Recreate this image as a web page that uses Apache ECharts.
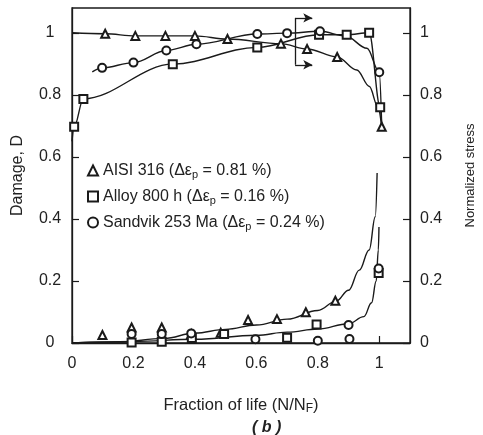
<!DOCTYPE html>
<html>
<head>
<meta charset="utf-8">
<script src="https://cdn.jsdelivr.net/npm/echarts@6/dist/echarts.min.js"></script>
<style>
  html, body { margin: 0; padding: 0; background: #fff; }
  #chart { width: 483px; height: 435px; }
</style>
</head>
<body>
<div id="chart"></div>
<script>
// legend names
const names = ['AISI 316', 'Alloy 800 h', 'Sandvik 253 Ma'];
const strains = ['0.81', '0.16', '0.24'];

// normalized stress (right axis), [N/NF, stress]; points with no marker are read off the drawn curve
const stressAisi = [[0, 1.0, 0], [0.108, 0.997], [0.206, 0.99], [0.304, 0.99], [0.40, 0.99], [0.506, 0.98],
  [0.68, 0.965], [0.765, 0.948], [0.863, 0.922], [0.927, 0.88, 0], [0.968, 0.827, 0], [0.995, 0.762, 0], [1.008, 0.697]];
const stressAlloy = [[0, 0.65, 0], [0.007, 0.697], [0.037, 0.787], [0.328, 0.899], [0.603, 0.953], [0.804, 0.994],
  [0.894, 0.994], [0.967, 1.0], [1.003, 0.76], [1.008, 0.70, 0]];
const stressSandvik = [[0.066, 0.874, 0], [0.098, 0.887], [0.2, 0.904], [0.307, 0.943], [0.405, 0.963], [0.603, 0.996],
  [0.70, 0.999], [0.807, 1.005], [0.89, 0.99, 0], [0.96, 0.95, 0], [1.0, 0.873], [1.008, 0.70, 0]];

// damage D (left axis), measured points
const damageAisi = [[0.099, 0.026], [0.194, 0.05], [0.292, 0.05], [0.388, 0.029], [0.484, 0.033], [0.573, 0.074],
  [0.667, 0.077], [0.761, 0.099], [0.857, 0.136]];
const damageAlloy = [[0.194, 0.002], [0.292, 0.004], [0.39, 0.016], [0.495, 0.029], [0.70, 0.017], [0.796, 0.06], [0.998, 0.226]];
const damageSandvik = [[0.194, 0.029], [0.292, 0.029], [0.388, 0.031], [0.597, 0.012], [0.80, 0.007], [0.903, 0.013],
  [0.90, 0.058], [0.998, 0.24]];

// drawn fit curves for damage
const fitUpper = [[0, 0], [0.15, 0.003], [0.3, 0.015], [0.4, 0.032], [0.5, 0.044], [0.6, 0.058], [0.7, 0.077],
  [0.8, 0.105], [0.86, 0.135], [0.9, 0.17], [0.935, 0.235], [0.967, 0.30], [0.987, 0.407], [0.993, 0.548]];
const fitLower = [[0, 0], [0.2, 0.005], [0.4, 0.012], [0.6, 0.025], [0.7, 0.035], [0.8, 0.045], [0.9, 0.062],
  [0.95, 0.085], [0.975, 0.13], [0.99, 0.2], [0.997, 0.3], [0.999, 0.374]];

// bracket with arrows (data coords on the stress axis)
const bracketX = [0.726, 0.782];
const bracketY = [1.048, 0.897];

const yTicks = ['0', '0.2', '0.4', '0.6', '0.8', '1'];
const xTicks = ['0', '0.2', '0.4', '0.6', '0.8', '1'];

const ink = '#1a1a1a';
const txt = '#222';
const font = 'Liberation Sans';
const symbols = ['emptyTriangle', 'emptyRect', 'emptyCircle'];

const toPts = arr => arr.map(p => p[2] === 0 ? { value: [p[0], p[1]], symbol: 'none' } : [p[0], p[1]]);

const chart = echarts.init(document.getElementById('chart'));

const markerStyle = { color: ink, borderWidth: 1, opacity: 1 };

const stressSeries = [stressAisi, stressAlloy, stressSandvik].map((d, i) => ({
  name: names[i],
  type: 'line',
  yAxisIndex: 1,
  data: toPts(d),
  smooth: 0.35,
  smoothMonotone: 'x',
  symbol: symbols[i],
  symbolSize: 8,
  showAllSymbol: true,
  lineStyle: { color: ink, width: 1.4 },
  itemStyle: markerStyle,
  z: 3
}));

const damageSeries = [damageAisi, damageAlloy, damageSandvik].map((d, i) => ({
  name: names[i],
  type: 'scatter',
  yAxisIndex: 0,
  data: d,
  symbol: symbols[i],
  symbolSize: 8,
  itemStyle: markerStyle,
  z: 4
}));

const fitSeries = [fitUpper, fitLower].map((d, i) => ({
  name: 'fit' + i,
  type: 'line',
  yAxisIndex: 0,
  data: d,
  smooth: 0.4,
  smoothMonotone: 'x',
  symbol: 'none',
  lineStyle: { color: ink, width: 1.4 },
  z: 2
}));

// bracket drawn as markLine on first stress series
stressSeries[0].markLine = {
  silent: true,
  animation: false,
  symbolSize: [7, 9],
  lineStyle: { color: ink, width: 1.3, type: 'solid' },
  label: { show: false },
  data: [
    [{ coord: [bracketX[0], bracketY[0]], symbol: 'none' }, { coord: [bracketX[0], bracketY[1]], symbol: 'none' }],
    [{ coord: [bracketX[0], bracketY[0]], symbol: 'none' }, { coord: [bracketX[1], bracketY[0]], symbol: 'arrow', symbolRotate: -90 }],
    [{ coord: [bracketX[0], bracketY[1]], symbol: 'none' }, { coord: [bracketX[1], bracketY[1]], symbol: 'arrow', symbolRotate: -90 }]
  ]
};

const yAxisBase = {
  type: 'value',
  min: 0,
  max: 1.08,
  interval: 0.2,
  splitLine: { show: false },
  axisLine: { show: true, lineStyle: { color: ink, width: 1.3 } },
  axisTick: { show: true, inside: true, length: 7, lineStyle: { color: ink, width: 1.2 } },
  nameLocation: 'middle',
  nameRotate: 90
};

chart.setOption({
  animation: false,
  textStyle: { fontFamily: font },
  grid: {
    left: 72, right: 73, top: 8, bottom: 92,
    outerBoundsMode: 'none', containLabel: false,
    show: true, borderColor: ink, borderWidth: 1.3
  },
  title: {
    text: '( b )',
    left: 252,
    top: 420,
    padding: 0,
    textStyle: { fontFamily: font, fontSize: 16, fontWeight: 'bold', fontStyle: 'italic', color: txt }
  },
  legend: {
    orient: 'vertical',
    left: 82,
    top: 156,
    itemGap: 7,
    itemWidth: 10,
    itemHeight: 10,
    data: names.map((n, i) => ({ name: n, icon: symbols[i] })),
    itemStyle: { color: ink, borderWidth: 1 },
    formatter: n => {
      const i = names.indexOf(n);
      return '{a|' + n + ' (Δε}{s|p}{a| = ' + strains[i] + ' %)}';
    },
    textStyle: {
      color: txt,
      rich: {
        a: { fontFamily: font, fontSize: 16, color: txt, lineHeight: 18 },
        s: { fontFamily: font, fontSize: 11, color: txt, padding: [8, 0, 0, 0], lineHeight: 18 }
      }
    }
  },
  xAxis: {
    type: 'value',
    min: 0,
    max: 1.1,
    interval: 0.2,
    splitLine: { show: false },
    axisLine: { show: true, lineStyle: { color: ink, width: 1.3 } },
    axisTick: { show: true, inside: true, length: 7, lineStyle: { color: ink, width: 1.2 } },
    axisLabel: {
      showMaxLabel: false,
      margin: 13,
      fontSize: 16,
      color: txt,
      fontFamily: font,
      formatter: v => xTicks[Math.round(v / 0.2)] || ''
    },
    name: '{a|Fraction of life (N/N}{s|F}{a|)}',
    nameLocation: 'middle',
    nameGap: 52,
    nameTextStyle: {
      rich: {
        a: { fontFamily: font, fontSize: 16.5, color: txt, lineHeight: 20 },
        s: { fontFamily: font, fontSize: 12, color: txt, padding: [8, 0, 0, 0], lineHeight: 20 }
      }
    }
  },
  yAxis: [
    Object.assign({}, yAxisBase, {
      position: 'left',
      name: 'Damage, D',
      nameGap: 46,
      nameTextStyle: { fontFamily: font, fontSize: 16, color: txt },
      axisLabel: {
        showMaxLabel: false, margin: 22, align: 'center', fontSize: 16, color: txt, fontFamily: font,
        formatter: v => yTicks[Math.round(v / 0.2)] || ''
      }
    }),
    Object.assign({}, yAxisBase, {
      position: 'right',
      name: 'Normalized stress',
      nameGap: 54,
      nameTextStyle: { fontFamily: font, fontSize: 13, color: txt },
      axisLabel: {
        showMaxLabel: false, margin: 10, fontSize: 16, color: txt, fontFamily: font,
        formatter: v => yTicks[Math.round(v / 0.2)] || ''
      }
    })
  ],
  series: [...fitSeries, ...stressSeries, ...damageSeries]
});
</script>
</body>
</html>
